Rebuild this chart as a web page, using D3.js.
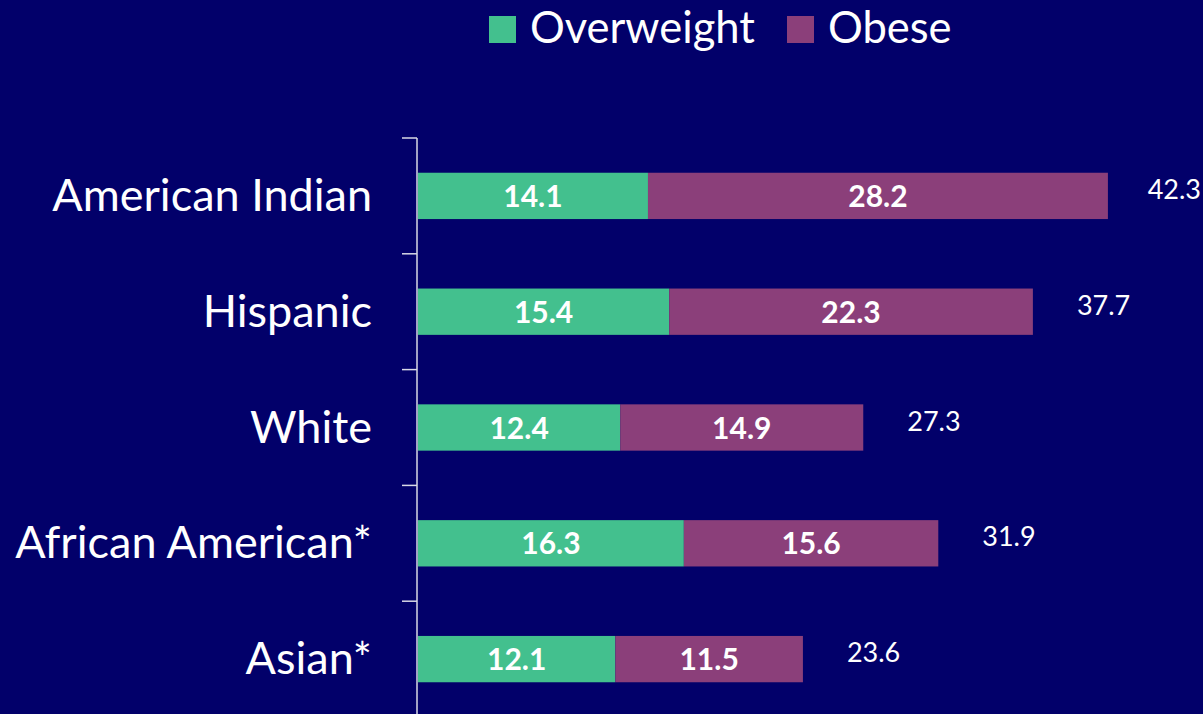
<!DOCTYPE html>
<html>
<head>
<meta charset="utf-8">
<script src="https://cdn.jsdelivr.net/npm/d3@7/dist/d3.min.js"></script>
<style>
  html, body { margin: 0; padding: 0; background: #02006a; }
  svg { display: block; }
</style>
</head>
<body>
<svg id="chart" width="1203" height="714"></svg>
<script>
// Prevalence by group, in percent
const categories = ["American Indian", "Hispanic", "White", "African American*", "Asian*"];
const overweight = [14.1, 15.4, 12.4, 16.3, 12.1];
const obese      = [28.2, 22.3, 14.9, 15.6, 11.5];
const totals     = [42.3, 37.7, 27.3, 31.9, 23.6];
const seriesNames = ["Overweight", "Obese"];

const colors = { Overweight: "#43c08e", Obese: "#8b3f7a" };
const fontFamily = "Lato, 'Open Sans', sans-serif";

const svg = d3.select("#chart");
const W = 1203, H = 714;

svg.append("rect").attr("width", W).attr("height", H).attr("fill", "#02006a");

const rows = categories.map((c, i) => ({
  category: c, Overweight: overweight[i], Obese: obese[i], total: totals[i]
}));

const x = d3.scaleLinear().domain([0, 45]).range([418, 418 + 45 * 16.31]);
const y = d3.scaleBand().domain(categories).range([138, 717])
  .paddingInner(0.6).paddingOuter(0.3);

const stack = d3.stack().keys(seriesNames);
const layers = stack(rows);

// stacked segments
const g = svg.append("g");
layers.forEach(layer => {
  g.selectAll(null)
    .data(layer)
    .join("rect")
    .attr("x", d => x(d[0]))
    .attr("y", d => y(d.data.category))
    .attr("width", d => x(d[1]) - x(d[0]))
    .attr("height", y.bandwidth())
    .attr("fill", colors[layer.key]);

  // value inside each segment
  g.selectAll(null)
    .data(layer)
    .join("text")
    .attr("x", d => (x(d[0]) + x(d[1])) / 2)
    .attr("y", d => y(d.data.category) + y.bandwidth() / 2 + 11)
    .attr("text-anchor", "middle")
    .attr("fill", "#ffffff")
    .attr("font-family", fontFamily)
    .attr("font-weight", "bold")
    .attr("font-size", 30)
    .text(d => (d[1] - d[0]).toFixed(1));
});

// totals to the right of each bar, kept inside the page edge
g.selectAll(".total")
  .data(rows)
  .join("text")
  .attr("class", "total")
  .attr("y", d => y(d.category) + y.bandwidth() / 2 + 3)
  .attr("fill", "#ffffff")
  .attr("font-family", fontFamily)
  .attr("font-size", 27)
  .text(d => d.total.toFixed(1))
  .attr("x", function(d) {
    const w = this.getComputedTextLength();
    return Math.min(x(d.total) + 44, W - 2 - w);
  });

// vertical axis with ticks at band boundaries
const step = y.step();
const half = step * y.paddingInner() / 2;
const axisColor = "#d9d9e6";
const x0 = x(0) - 1;
svg.append("line")
  .attr("x1", x0).attr("x2", x0)
  .attr("y1", y(categories[0]) - half)
  .attr("y2", y(categories[categories.length - 1]) + y.bandwidth() + half)
  .attr("stroke", axisColor).attr("stroke-width", 1.5);
svg.selectAll(".tick")
  .data(categories)
  .join("line")
  .attr("class", "tick")
  .attr("x1", x0 - 15).attr("x2", x0)
  .attr("y1", d => y(d) - half).attr("y2", d => y(d) - half)
  .attr("stroke", axisColor).attr("stroke-width", 1.5);

// category labels
svg.selectAll(".cat")
  .data(categories)
  .join("text")
  .attr("class", "cat")
  .attr("x", x0 - 45)
  .attr("y", d => y(d) + y.bandwidth() / 2 + 15)
  .attr("text-anchor", "end")
  .attr("fill", "#ffffff")
  .attr("font-family", fontFamily)
  .attr("font-size", 45)
  .text(d => d);

// legend
const legend = svg.append("g");
const legendX = [489, 787];
seriesNames.forEach((name, i) => {
  legend.append("rect")
    .attr("x", legendX[i]).attr("y", 16)
    .attr("width", 27).attr("height", 27)
    .attr("fill", colors[name]);
  legend.append("text")
    .attr("x", legendX[i] + 41).attr("y", 43)
    .attr("fill", "#ffffff")
    .attr("font-family", fontFamily)
    .attr("font-size", 43.5)
    .text(name);
});
</script>
</body>
</html>
